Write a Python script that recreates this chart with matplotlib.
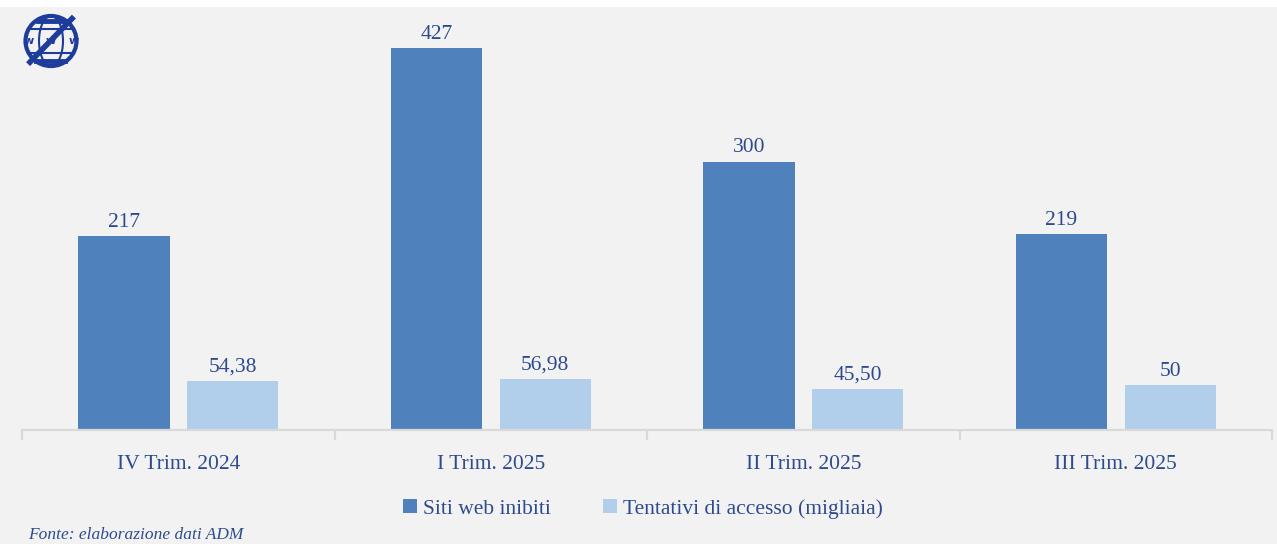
import numpy as np
import matplotlib.pyplot as plt
from matplotlib.patches import Rectangle, Ellipse
from matplotlib.lines import Line2D

# %% Data:
quarters = ['IV Trim. 2024', 'I Trim. 2025', 'II Trim. 2025', 'III Trim. 2025']
siti_inibiti = [217, 427, 300, 219]
tentativi = [54.38, 56.98, 45.50, 50]
tentativi_lbl = ['54,38', '56,98', '45,50', '50']
series_names = ['Siti web inibiti', 'Tentativi di accesso (migliaia)']

# %% Style:
BG = '#F2F2F2'
C_DARK = '#4F81BD'
C_LIGHT = '#B1CEEA'
C_TEXT = '#2E4A8E'
SERIF = 'Liberation Serif'
FS = 15.5

W, H = 1277, 544
fig = plt.figure(figsize=(W/100, H/100), dpi=100, facecolor=BG)

# white band on top of the frame
fig.patches.append(Rectangle((0, 1 - 7/H), 1, 7/H, transform=fig.transFigure,
                             facecolor='white', edgecolor='none', zorder=0))

ax = fig.add_axes([22/W, (H-430)/H, 1250/W, 420/H])
ax.set_facecolor(BG)

x = np.arange(len(quarters))
bw = 0.292
off = 0.174
b1 = ax.bar(x - off, siti_inibiti, bw, color=C_DARK, label=series_names[0], zorder=2)
b2 = ax.bar(x + off, tentativi, bw, color=C_LIGHT, label=series_names[1], zorder=2)

for rect, v in zip(b1, siti_inibiti):
    ax.text(rect.get_x() + rect.get_width()/2, v + 5, str(v), ha='center', va='bottom',
            fontsize=FS, family=SERIF, color=C_TEXT)
for rect, v, s in zip(b2, tentativi, tentativi_lbl):
    ax.text(rect.get_x() + rect.get_width()/2, v + 5, s, ha='center', va='bottom',
            fontsize=FS, family=SERIF, color=C_TEXT)

ax.set_xlim(-0.5, len(quarters) - 0.5)
ax.set_ylim(0, 470)
for side in ['top', 'right', 'left']:
    ax.spines[side].set_visible(False)
ax.spines['bottom'].set_color('#D9D9D9')
ax.spines['bottom'].set_linewidth(1.6)
ax.set_yticks([])

# category boundary ticks
ax.set_xticks(np.arange(-0.5, len(quarters)), minor=False)
ax.set_xticklabels([])
ax.tick_params(axis='x', length=7, width=1.6, color='#D9D9D9')
ax.set_xticks(x, minor=True)
ax.set_xticklabels(quarters, minor=True, fontsize=FS, family=SERIF, color=C_TEXT)
ax.tick_params(axis='x', which='minor', length=0, pad=18)

leg = fig.legend(loc='center', bbox_to_anchor=(643/W, 1 - 509/H), ncol=2, frameon=False,
                 prop={'family': SERIF, 'size': FS}, handlelength=0.65, handleheight=0.65,
                 handletextpad=0.3, columnspacing=2.4)
for t in leg.get_texts():
    t.set_color(C_TEXT)

fig.text(28/W, 1 - 535/H, 'Fonte: elaborazione dati ADM', ha='left', va='center',
         fontsize=12.5, style='italic', family=SERIF, color=C_TEXT)

# globe logo
lg = fig.add_axes([18/W, 1 - 70/H, 66/W, 58/H])
lg.set_xlim(-1.1, 1.1)
lg.set_ylim(-1.1, 1.1)
lg.axis('off')
LOGO = '#1E3C9C'
lg.add_patch(Ellipse((0, 0), 1.7, 1.9, fill=False, ec=LOGO, lw=3))
lg.add_patch(Ellipse((0, 0), 0.8, 1.9, fill=False, ec=LOGO, lw=1.5))
for yy in [-0.45, 0.45]:
    hw = np.sqrt(1 - yy**2) * 0.85
    lg.add_line(Line2D([-hw, hw], [yy, yy], color=LOGO, lw=1.5))
for xx in [-0.75, 0, 0.75]:
    lg.text(xx, 0.0, 'w', ha='center', va='center', fontsize=8, fontweight='bold',
            color=LOGO, family='DejaVu Sans')
lg.add_line(Line2D([-0.45, 0.5], [0.75, 0.75], color=LOGO, lw=3.5))
lg.add_line(Line2D([0.7, -0.7], [0.85, -0.8], color=LOGO, lw=4))
lg.add_line(Line2D([-0.5, 0.45], [-0.75, -0.75], color=LOGO, lw=3.5))

fig.savefig('out.png', dpi=100, facecolor=BG)
